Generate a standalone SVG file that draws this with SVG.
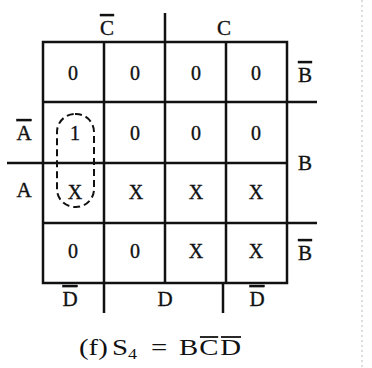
<svg xmlns="http://www.w3.org/2000/svg" width="372" height="368" viewBox="0 0 372 368">
<style>
text{font-family:"Liberation Serif","Times New Roman",serif;fill:#111;stroke:#111;stroke-width:0.35;}
.v{font-size:20px;text-anchor:middle;}
.l{font-size:21px;text-anchor:middle;}
.ov{text-decoration:overline;}
.g{stroke:#111;stroke-width:2.5;fill:none;}
.o{stroke:#111;stroke-width:1.8;}
.cap{stroke:none;}
</style>
<rect width="372" height="368" fill="#fff"/>
<line x1="362" y1="0" x2="362" y2="368" stroke="#bbb" stroke-width="1" stroke-dasharray="2 3"/>
<g id="connectors">
<rect class="g" x="43" y="42" width="244" height="241"/>
<line class="g" x1="104" y1="42" x2="104" y2="313"/>
<line class="g" x1="165" y1="13" x2="165" y2="283"/>
<line class="g" x1="226" y1="42" x2="226" y2="283"/>
<line class="g" x1="223" y1="283" x2="223" y2="313"/>
<line class="g" x1="43" y1="102" x2="317" y2="102"/>
<line class="g" x1="7" y1="163" x2="287" y2="163"/>
<line class="g" x1="43" y1="223" x2="317" y2="223"/>
</g>
<g id="loop"><rect x="57" y="114" width="37" height="93" rx="18" fill="none" stroke="#111" stroke-width="2" stroke-dasharray="7 4"/></g>
<g id="labels">
<text class="l ov" x="107" y="35">C</text>
<text class="l" x="224" y="35">C</text>
<text class="l ov" x="305" y="82">B</text>
<text class="l" x="305" y="170">B</text>
<text class="l ov" x="305" y="260">B</text>
<text class="l ov" x="24" y="140">A</text>
<text class="l" x="24" y="197">A</text>
<text class="l ov" x="70" y="306">D</text>
<text class="l" x="165" y="306">D</text>
<text class="l ov" x="257" y="306">D</text>
</g>
<g id="cells">
<text class="v" x="73" y="80">0</text><text class="v" x="135" y="80">0</text><text class="v" x="196" y="80">0</text><text class="v" x="256" y="80">0</text>
<text class="v" x="75" y="140">1</text><text class="v" x="135" y="140">0</text><text class="v" x="196" y="140">0</text><text class="v" x="256" y="140">0</text>
<text class="v" x="75" y="199">X</text><text class="v" x="136" y="199">X</text><text class="v" x="196" y="199">X</text><text class="v" x="256" y="199">X</text>
<text class="v" x="73" y="258">0</text><text class="v" x="135" y="258">0</text><text class="v" x="196" y="258">X</text><text class="v" x="256" y="258">X</text>
</g>
<g id="caption" transform="translate(79,0) scale(1.2,1)">
<text class="cap" y="355" font-size="24"><tspan x="0">(f)</tspan><tspan x="27.5">S</tspan><tspan font-size="15" dy="4">4</tspan><tspan x="60" dy="-4">=</tspan><tspan x="83.3">B</tspan><tspan x="100.3">C</tspan><tspan x="117.8">D</tspan></text>
<line class="o" x1="100.8" y1="337" x2="116" y2="337"/>
<line class="o" x1="118.3" y1="337" x2="135" y2="337"/>
</g>
</svg>
